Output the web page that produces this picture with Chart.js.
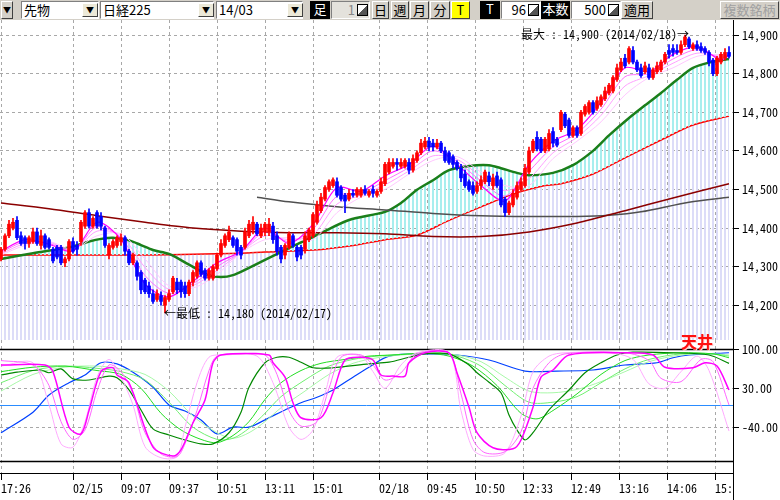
<!DOCTYPE html>
<html lang="ja">
<head>
<meta charset="UTF-8">
<title>先物 日経225 14/03</title>
<script src="https://cdn.jsdelivr.net/npm/chart.js@4.4.1/dist/chart.umd.min.js"></script>
<style>
    body {
        margin: 0;
        width: 780px;
        height: 500px;
        background: #fff;
        overflow: hidden;
        position: relative;
        font-family: "Noto Sans CJK JP", sans-serif;
    }
    .tb {
        position: absolute;
        left: 0;
        top: 0;
        width: 780px;
        height: 20px;
        background: #d4d0c8;
    }
    .w {
        position: absolute;
        top: 1px;
        height: 18px;
        box-sizing: border-box;
        font-size: 13px;
        line-height: 16px;
        white-space: nowrap;
        overflow: hidden;
        color: #000;
    }
    .raised {
        background: #d4d0c8;
        border: 1px solid;
        border-color: #fff #404040 #404040 #fff;
        text-align: center;
    }
    .sunken {
        background: #fff;
        border: 1px solid;
        border-color: #808080 #fff #fff #808080;
        padding-left: 2px;
    }
    .drop {
        top: 3px;
        height: 14px;
        background: #ece9d8;
        font-size: 8px;
        line-height: 12px;
    }
    .black {
        background: #000;
        color: #fff;
        text-align: center;
    }
    .num {
        text-align: right;
        padding-right: 14px;
    }
    .spin {
        position: absolute;
        top: 4px;
        width: 11px;
        height: 12px;
        box-sizing: border-box;
        border: 1px solid #000;
        background: linear-gradient(135deg, #fff 50%, #555 50%);
    }
    .tenjo {
        position: absolute;
        left: 681px;
        top: 329px;
        color: #ff1010;
        font: bold 16px "Noto Sans CJK JP", sans-serif;
        text-shadow: 1px 1px 0 #fcc;
    }
    .cover {
        position: absolute;
        left: 733px;
        top: 473px;
        width: 47px;
        height: 27px;
        background: #fff;
        border-left: 1px solid #000;
        box-sizing: border-box;
    }
</style>
</head>
<body>
<div class="tb">
    <span class="w raised" style="left:1px;width:12px;font-size:8px">▼</span>
    <span class="w sunken" style="left:21px;width:78px">先物</span>
    <span class="w raised drop" style="left:82px;width:16px">▼</span>
    <span class="w sunken" style="left:100px;width:114px">日経225</span>
    <span class="w raised drop" style="left:198px;width:16px">▼</span>
    <span class="w sunken" style="left:216px;width:87px">14/03</span>
    <span class="w raised drop" style="left:287px;width:16px">▼</span>
    <span class="w black" style="left:310px;width:20px">足</span>
    <span class="w sunken num" style="left:331px;width:39px;background:#e4e2dc;color:#888">1</span>
    <span class="spin" style="left:357px"></span>
    <span class="w raised" style="left:372px;width:17px">日</span>
    <span class="w raised" style="left:391px;width:18px">週</span>
    <span class="w raised" style="left:410px;width:19px">月</span>
    <span class="w raised" style="left:430px;width:20px">分</span>
    <span class="w raised" style="left:451px;width:19px;background:#ffff00">T</span>
    <span class="w black" style="left:480px;width:20px">T</span>
    <span class="w sunken num" style="left:501px;width:40px">96</span>
    <span class="spin" style="left:528px"></span>
    <span class="w black" style="left:541px;width:29px">本数</span>
    <span class="w sunken num" style="left:571px;width:50px">500</span>
    <span class="spin" style="left:608px"></span>
    <span class="w raised" style="left:621px;width:32px">適用</span>
    <span class="w raised" style="left:720px;width:59px;color:#a0a0a0">複数銘柄</span>
</div>

<canvas id="main" width="780" height="320" style="position:absolute;left:0;top:20px"></canvas>
<canvas id="osc" width="780" height="160" style="position:absolute;left:0;top:340px"></canvas>
<div class="tenjo">天井</div>
<div class="cover"></div>

<script>
// 4本値（1本 = 1足）
const opens = [
    14320,14345,14380,14400,14420,14380,14375,14360,14365,14390,
    14355,14380,14370,14345,14350,14350,14310,14320,14365,14355,
    14365,14405,14440,14405,14440,14430,14400,14330,14350,14355,
    14365,14375,14340,14310,14310,14285,14265,14250,14230,14215,
    14225,14200,14215,14235,14260,14260,14250,14230,14260,14275,
    14310,14290,14270,14270,14295,14330,14355,14370,14375,14370,
    14350,14350,14380,14395,14410,14380,14390,14390,14405,14380,
    14350,14330,14350,14380,14350,14350,14345,14370,14380,14415,
    14445,14475,14500,14510,14520,14505,14485,14475,14490,14485,
    14485,14500,14485,14500,14485,14495,14515,14545,14560,14570,
    14560,14560,14570,14550,14575,14595,14610,14625,14620,14610,
    14620,14600,14595,14585,14570,14555,14540,14520,14510,14495,
    14510,14520,14535,14510,14535,14525,14475,14440,14460,14480,
    14500,14510,14545,14600,14635,14630,14600,14605,14650,14630,
    14655,14695,14680,14640,14660,14645,14695,14700,14725,14710,
    14720,14735,14750,14755,14785,14810,14840,14830,14860,14830,
    14815,14805,14815,14790,14805,14810,14830,14860,14865,14860,
    14855,14875,14890,14865,14875,14870,14865,14855,14835,14800,
    14830,14840,14855
];
const closes = [
    14345,14380,14410,14415,14375,14360,14360,14375,14390,14360,
    14380,14350,14350,14315,14325,14310,14320,14365,14340,14345,
    14415,14440,14405,14425,14405,14405,14355,14355,14365,14375,
    14375,14340,14310,14330,14275,14240,14235,14230,14210,14230,
    14210,14220,14230,14270,14240,14235,14230,14260,14285,14310,
    14280,14270,14290,14300,14330,14360,14380,14390,14355,14340,
    14330,14390,14410,14415,14385,14400,14410,14410,14370,14340,
    14320,14355,14385,14355,14325,14330,14380,14395,14435,14460,
    14480,14505,14520,14525,14485,14475,14470,14490,14485,14500,
    14500,14490,14495,14490,14495,14520,14565,14570,14570,14565,
    14570,14575,14550,14580,14595,14620,14625,14610,14610,14620,
    14600,14575,14570,14565,14555,14530,14510,14500,14490,14510,
    14525,14545,14520,14530,14510,14460,14440,14465,14490,14510,
    14520,14555,14600,14625,14605,14600,14630,14645,14620,14615,
    14700,14665,14640,14660,14640,14700,14715,14725,14700,14730,
    14740,14755,14770,14790,14815,14830,14820,14865,14830,14810,
    14795,14820,14790,14810,14820,14830,14850,14850,14855,14855,
    14875,14895,14870,14875,14865,14860,14855,14830,14800,14840,
    14850,14855,14845
];
const highs = [
    14350,14385,14420,14425,14430,14390,14380,14380,14400,14400,
    14395,14385,14375,14350,14355,14355,14325,14370,14375,14365,
    14420,14445,14450,14430,14445,14440,14405,14360,14370,14380,
    14385,14380,14345,14335,14315,14290,14270,14260,14240,14240,
    14235,14225,14240,14275,14270,14265,14260,14265,14290,14315,
    14315,14295,14295,14305,14335,14370,14385,14405,14380,14375,
    14355,14400,14420,14430,14415,14410,14415,14425,14415,14390,
    14355,14360,14390,14385,14355,14355,14390,14400,14440,14470,
    14490,14510,14525,14530,14530,14510,14490,14500,14500,14505,
    14505,14510,14500,14510,14500,14530,14570,14580,14580,14580,
    14580,14580,14580,14590,14600,14630,14635,14635,14630,14630,
    14625,14610,14600,14590,14575,14565,14550,14525,14520,14520,
    14535,14550,14545,14540,14545,14530,14480,14470,14500,14520,
    14530,14565,14610,14630,14650,14635,14635,14655,14660,14635,
    14705,14700,14685,14665,14665,14705,14720,14730,14730,14740,
    14745,14765,14775,14795,14825,14840,14850,14870,14870,14835,
    14825,14830,14825,14815,14830,14835,14855,14875,14875,14875,
    14885,14900,14895,14880,14885,14880,14870,14860,14840,14845,
    14855,14865,14870
];
const lows = [
    14315,14340,14375,14395,14370,14355,14345,14350,14360,14355,
    14345,14345,14345,14310,14320,14305,14300,14315,14335,14330,
    14355,14400,14400,14400,14400,14395,14350,14320,14345,14350,
    14355,14330,14305,14305,14265,14230,14230,14220,14205,14210,
    14200,14180,14210,14230,14230,14220,14220,14225,14250,14270,
    14275,14265,14265,14265,14290,14325,14350,14365,14350,14330,
    14320,14345,14375,14385,14380,14375,14380,14380,14360,14330,
    14310,14320,14345,14350,14315,14320,14335,14365,14375,14410,
    14440,14470,14495,14505,14480,14470,14440,14470,14480,14480,
    14480,14485,14480,14480,14480,14490,14510,14540,14555,14550,
    14555,14555,14540,14545,14570,14590,14605,14600,14600,14605,
    14595,14570,14565,14555,14550,14520,14505,14495,14485,14490,
    14500,14515,14510,14500,14505,14455,14430,14435,14455,14475,
    14495,14505,14540,14595,14600,14595,14595,14600,14610,14610,
    14650,14660,14635,14635,14635,14640,14690,14695,14695,14705,
    14715,14730,14745,14750,14780,14805,14815,14825,14825,14805,
    14790,14800,14785,14785,14800,14805,14825,14840,14845,14850,
    14850,14870,14865,14860,14860,14855,14850,14820,14795,14795,
    14825,14835,14840
];

// 移動平均線 [足番号, 値]
const maLong = [[0,14465],[12,14450],[24,14432],[36,14415],[48,14400],[60,14392],[72,14388],[84,14388],[96,14385],[108,14378],[120,14378],[132,14390],[144,14413],[156,14445],[168,14478],[182,14515]];
const maGray = [[64,14480],[72,14468],[84,14455],[96,14447],[108,14438],[120,14432],[132,14430],[144,14430],[152,14433],[160,14442],[172,14467],[182,14480]];
const maMid = [[0,14330],[12,14330],[24,14330],[36,14330],[48,14332],[60,14335],[66,14338],[78,14343],[88,14355],[96,14370],[104,14382],[112,14420],[120,14455],[128,14488],[136,14510],[140,14515],[148,14540],[156,14582],[165,14628],[173,14667],[182,14690]];
const maShort = [[0,14320],[8,14335],[17,14350],[22,14365],[25,14372],[28,14375],[32,14368],[35,14356],[38,14343],[42,14333],[47,14305],[52,14278],[55,14273],[58,14278],[62,14297],[71,14343],[79,14382],[87,14421],[96,14442],[100,14465],[104,14499],[108,14524],[112,14550],[117,14561],[122,14563],[125,14555],[129,14543],[132,14537],[138,14543],[143,14563],[148,14600],[152,14640],[157,14685],[161,14718],[165,14750],[169,14784],[173,14815],[178,14831],[182,14838]];

// リボン（短期EMA群）
const ribbonBars = [0,6,12,18,24,30,36,42,48,54,60,66,72,78,84,90,96,102,108,114,120,126,132,138,144,150,156,162,168,174,180,182];
const ribbon1 = [14340,14370,14358,14340,14415,14370,14255,14222,14262,14310,14340,14400,14360,14410,14505,14495,14535,14565,14612,14565,14510,14470,14565,14625,14655,14725,14815,14805,14850,14870,14835,14848];
const ribbon2 = [14337,14365,14360,14342,14403,14375,14277,14231,14256,14300,14338,14390,14365,14397,14483,14490,14523,14557,14600,14572,14522,14483,14547,14610,14645,14708,14792,14800,14838,14862,14840,14849];
const ribbon3 = [14333,14360,14363,14343,14392,14380,14298,14241,14251,14290,14337,14380,14370,14383,14462,14485,14512,14548,14587,14578,14533,14497,14528,14595,14635,14692,14768,14795,14827,14853,14845,14849];
const ribbon4 = [14330,14355,14365,14345,14380,14385,14320,14250,14245,14280,14335,14370,14375,14370,14440,14480,14500,14540,14575,14585,14545,14510,14510,14580,14625,14675,14745,14790,14815,14845,14850,14850];

// オシレーター [足番号, 値]
const oscBlue = [[0,-50],[8,-13],[12,18],[17,40],[21,54],[25,76],[29,74],[33,59],[38,32],[42,0],[46,-11],[50,-27],[54,-52],[58,-40],[62,-40],[67,-23],[71,-9],[75,4],[79,14],[83,27],[88,50],[92,68],[97,88],[106,92],[114,90],[122,81],[131,61],[139,61],[148,63],[156,72],[164,76],[168,85],[172,90],[182,94]];
const oscGreen = [[0,54],[4,59],[10,63],[12,58],[15,65],[18,47],[22,45],[27,52],[29,49],[32,27],[35,-9],[38,-43],[42,-54],[46,-63],[50,-70],[53,-70],[57,-50],[60,-13],[62,32],[66,76],[69,86],[72,86],[75,77],[78,67],[83,67],[92,74],[97,77],[102,86],[106,92],[112,92],[117,72],[119,58],[122,41],[125,22],[127,-18],[129,-45],[131,-63],[133,-50],[137,-9],[142,27],[146,58],[150,76],[154,90],[158,95],[168,94],[177,90],[182,75]];
const oscGreen1 = [[0,60],[8,68],[16,70],[24,62],[30,55],[35,30],[40,-15],[45,-45],[50,-62],[54,-68],[58,-55],[62,-30],[66,10],[70,40],[75,62],[80,75],[86,82],[92,88],[98,90],[106,93],[112,88],[118,70],[124,35],[130,-15],[134,-25],[138,-10],[144,20],[150,55],[156,80],[162,90],[170,94],[178,92],[182,85]];
const oscGreen2 = [[0,40],[8,62],[16,70],[24,66],[30,60],[36,45],[42,5],[48,-40],[54,-62],[58,-60],[62,-42],[66,-15],[70,15],[76,45],[82,70],[88,82],[94,88],[100,91],[108,94],[114,88],[120,70],[126,35],[132,5],[138,5],[144,15],[150,40],[156,65],[162,82],[170,92],[178,92],[182,88]];
const oscGreen3 = [[0,25],[8,55],[16,68],[24,70],[30,65],[36,55],[42,25],[48,-20],[54,-50],[58,-60],[62,-50],[66,-30],[70,-5],[76,25],[82,55],[88,75],[94,85],[100,90],[108,93],[114,90],[120,78],[126,50],[132,25],[138,22],[144,28],[150,42],[156,60],[162,78],[170,90],[178,92],[182,90]];
const oscMagenta = [[0,72],[11,72],[13,60],[17,-40],[20,-52],[22,-10],[25,60],[28,67],[29,54],[32,40],[38,-76],[43,-92],[45,-81],[48,-32],[51,9],[53,76],[55,90],[67,90],[68,76],[71,50],[73,4],[75,-23],[80,-23],[83,22],[86,81],[90,86],[93,81],[95,54],[98,52],[101,52],[102,76],[106,94],[112,94],[114,58],[117,-4],[119,-50],[123,-77],[128,-79],[130,-63],[133,-4],[135,50],[138,63],[142,90],[156,94],[163,90],[166,68],[173,67],[176,76],[179,70],[182,27]];
const oscPink1 = [[0,80],[8,72],[12,35],[15,-30],[18,-62],[21,-45],[24,25],[27,72],[30,60],[33,20],[36,-50],[40,-88],[44,-93],[46,-70],[49,-10],[52,62],[54,88],[60,92],[66,90],[69,55],[72,-10],[75,-38],[79,-30],[82,30],[85,86],[90,90],[93,72],[96,45],[100,58],[104,92],[112,93],[115,20],[118,-62],[121,-86],[126,-84],[130,-48],[133,30],[137,76],[141,92],[156,94],[162,80],[165,48],[170,42],[175,82],[178,78],[182,0]];
const oscPink2 = [[0,70],[8,76],[12,0],[15,-70],[18,-76],[21,-30],[24,50],[27,82],[30,50],[33,0],[36,-75],[40,-95],[44,-93],[46,-40],[49,40],[52,86],[56,90],[64,88],[68,40],[72,-40],[75,-62],[78,-45],[81,20],[84,86],[90,88],[93,60],[96,30],[100,72],[104,94],[112,94],[115,-10],[118,-80],[121,-92],[126,-86],[130,-20],[133,60],[137,88],[141,94],[152,94],[158,82],[162,38],[166,30],[170,60],[174,88],[177,62],[182,-47]];
const oscLevels = [100, 0, -100];

// 目盛り
const tickAt = [0, 18, 30, 42, 54, 66, 78, 94.5, 106.5, 118.5, 130.5, 142.5, 154.5, 166.5, 178.5];
const xLabels = ['17:26', '02/15', '09:07', '09:37', '10:51', '13:11', '15:01', '02/18', '09:45', '10:50', '12:33', '12:49', '13:16', '14:06', '15:05'];
const priceTicks = [14200, 14300, 14400, 14500, 14600, 14700, 14800, 14900];
const oscTicks = [100, 30, -40];
const maxDate = '2014/02/18';
const minDate = '2014/02/17';

const MONO = '"Noto Sans Mono CJK JP", "DejaVu Sans Mono", monospace';
const UP = '#ff0000';
const DOWN = '#0000ff';
const GRID = '#a8a8a8';

function stripes(color) {
    const c = document.createElement('canvas');
    c.width = 4;
    c.height = 4;
    const g = c.getContext('2d');
    g.fillStyle = color;
    g.fillRect(0, 0, 2, 4);
    return g.createPattern(c, 'repeat');
}
const lavender = stripes('#dcdcf8');
const cyan = stripes('#a8eeee');

const pts = arr => arr.map(([b, v]) => ({ x: b, y: v }));
const zip = (bars, vals) => bars.map((b, i) => ({ x: b, y: vals[i] }));
const candleColor = ctx => closes[ctx.dataIndex] >= opens[ctx.dataIndex] ? UP : DOWN;
const fmt = v => v.toLocaleString('en-US');

function line(data, color, width, order, extra) {
    return Object.assign({
        type: 'line', data, borderColor: color, borderWidth: width,
        pointRadius: 0, tension: 0.3, fill: false, order
    }, extra || {});
}

const xScale = (showLabels) => ({
    type: 'linear',
    min: -0.25,
    max: 183,
    offset: false,
    afterBuildTicks: s => { s.ticks = tickAt.map(v => ({ value: v })); },
    ticks: {
        display: showLabels, color: '#000', font: { family: MONO, size: 12 },
        align: 'start', maxRotation: 0, autoSkip: false, padding: 1,
        callback: (v, i) => xLabels[i]
    },
    grid: { offset: false, color: GRID, drawTicks: showLabels, tickColor: '#000', tickLength: 7 },
    border: { display: showLabels, color: '#000', dash: [3, 3] },
    afterFit: s => {
        s.height = showLabels ? 27 : 0;
        s.paddingLeft = 0;
        s.paddingRight = 0;
    }
});

const yScale = (min, max, ticks, label) => ({
    position: 'right',
    min, max,
    afterBuildTicks: s => { s.ticks = ticks.map(v => ({ value: v })); },
    ticks: { color: '#000', font: { family: MONO, size: 12 }, padding: 3, callback: label },
    grid: { color: GRID, tickColor: '#000', tickLength: 6 },
    border: { color: '#000', dash: [3, 3] },
    afterFit: s => {
        s.width = 47;
        s.paddingTop = 0;
        s.paddingBottom = 0;
    }
});

// 最大・最低の注記
const extremes = {
    id: 'extremes',
    afterDatasetsDraw(chart) {
        const { ctx, scales: { x, y } } = chart;
        const hi = highs.indexOf(Math.max(...highs));
        const lo = lows.indexOf(Math.min(...lows));
        ctx.save();
        ctx.font = '12px ' + MONO;
        ctx.fillStyle = '#000';
        ctx.textBaseline = 'middle';
        ctx.textAlign = 'right';
        ctx.fillText('最大 : ' + fmt(highs[hi]) + ' (' + maxDate + ')→', x.getPixelForValue(hi) + 4, y.getPixelForValue(highs[hi]) - 1);
        ctx.textAlign = 'left';
        ctx.fillText('←最低 : ' + fmt(lows[lo]) + ' (' + minDate + ')', x.getPixelForValue(lo) - 1, y.getPixelForValue(lows[lo]));
        ctx.restore();
    }
};

// 上限・下限・ゼロ線
const levels = {
    id: 'levels',
    beforeDatasetsDraw(chart) {
        const { ctx, chartArea: a, scales: { y } } = chart;
        ctx.save();
        oscLevels.forEach(v => {
            const py = Math.round(y.getPixelForValue(v)) + 0.5;
            ctx.strokeStyle = v === 0 ? '#2a8cff' : '#000';
            ctx.lineWidth = v === 0 ? 1 : 1.5;
            ctx.beginPath();
            ctx.moveTo(a.left, py);
            ctx.lineTo(a.right, py);
            ctx.stroke();
        });
        ctx.restore();
    }
};

const common = {
    responsive: false,
    animation: false,
    layout: { padding: 0, autoPadding: false },
    plugins: { legend: { display: false }, tooltip: { enabled: false } }
};

const idx = opens.map((o, i) => i);

new Chart(document.getElementById('main'), {
    data: {
        datasets: [
            line(pts(maMid), '#ff0000', 1.5, 10, { fill: { target: 'start', above: lavender, below: lavender } }),
            line(pts(maShort), '#1a7f1a', 2.5, 9, { fill: { target: 0, above: cyan, below: 'rgba(0,0,0,0)' } }),
            line(pts(maLong), '#8b0000', 1.5, 8),
            line(pts(maGray), '#505050', 1.5, 8),
            line(zip(ribbonBars, ribbon4), '#ffc8ff', 1, 6),
            line(zip(ribbonBars, ribbon3), '#ffa0ff', 1, 5),
            line(zip(ribbonBars, ribbon2), '#ff70ff', 1, 4),
            line(zip(ribbonBars, ribbon1), '#ff00ff', 1.2, 3),
            {
                type: 'bar', order: 2, grouped: false, barThickness: 1,
                data: idx.map(i => ({ x: i, y: [lows[i], highs[i]] })),
                backgroundColor: candleColor
            },
            {
                type: 'bar', order: 1, grouped: false, barThickness: 3,
                data: idx.map(i => ({ x: i, y: [opens[i], closes[i]] })),
                backgroundColor: candleColor
            }
        ]
    },
    options: Object.assign({}, common, {
        scales: {
            x: xScale(false),
            y: yScale(14110, 14939, priceTicks, v => fmt(v))
        }
    }),
    plugins: [extremes]
});

new Chart(document.getElementById('osc'), {
    data: {
        datasets: [
            line(pts(oscBlue), '#0040ff', 1.2, 9),
            line(pts(oscGreen3), '#a8f8a8', 1, 8),
            line(pts(oscGreen2), '#70f070', 1, 7),
            line(pts(oscGreen1), '#22dd22', 1, 6),
            line(pts(oscGreen), '#008800', 1.2, 5),
            line(pts(oscPink2), '#ffaaff', 1, 4),
            line(pts(oscPink1), '#ff66ff', 1, 3),
            line(pts(oscMagenta), '#ff00ff', 1.5, 2)
        ]
    },
    options: Object.assign({}, common, {
        scales: {
            x: xScale(true),
            y: yScale(-122.5, 117, oscTicks, v => v.toFixed(2))
        }
    }),
    plugins: [levels]
});
</script>
</body>
</html>
